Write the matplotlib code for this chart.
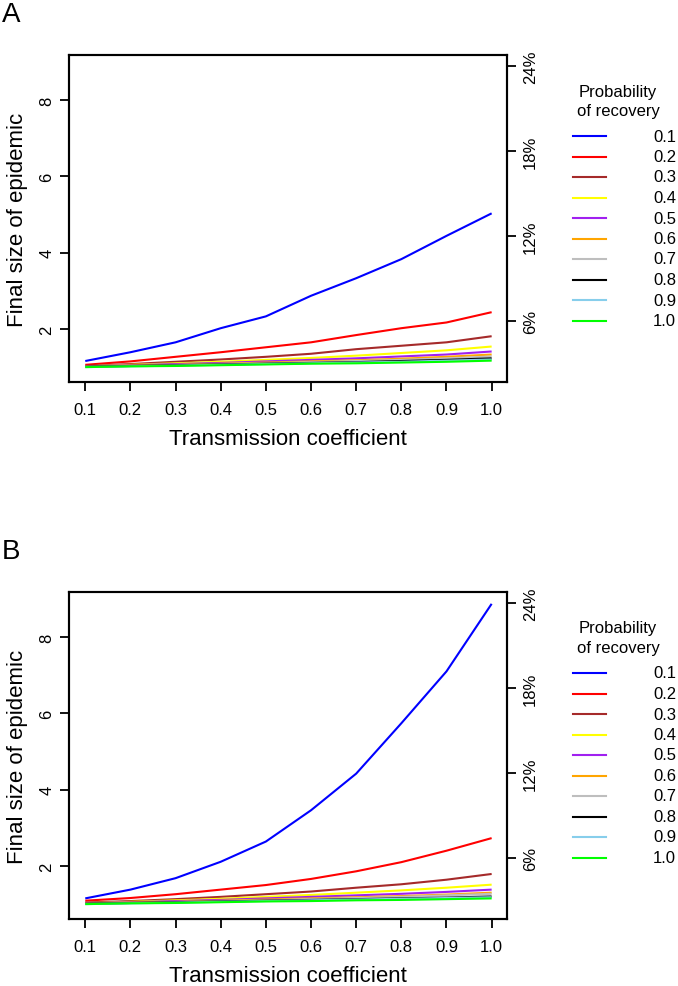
import matplotlib
matplotlib.use("Agg")
import matplotlib.pyplot as plt
from matplotlib.lines import Line2D

plt.rcParams['font.family'] = ['Liberation Sans', 'DejaVu Sans']

transmission = [0.1, 0.2, 0.3, 0.4, 0.5, 0.6, 0.7, 0.8, 0.9, 1.0]
recovery_labels = ["0.1", "0.2", "0.3", "0.4", "0.5", "0.6", "0.7", "0.8", "0.9", "1.0"]
colors = ["#0000FF", "#FF0000", "#A52A2A", "#FFFF00", "#A020F0",
          "#FFA500", "#BEBEBE", "#000000", "#87CEEB", "#00FF00"]

# Panel A: final size per recovery probability
A_r01 = [1.16, 1.39, 1.65, 2.02, 2.33, 2.87, 3.33, 3.83, 4.44, 5.03]
A_r02 = [1.06, 1.15, 1.27, 1.39, 1.52, 1.65, 1.84, 2.02, 2.17, 2.44]
A_r03 = [1.03, 1.08, 1.14, 1.20, 1.27, 1.35, 1.47, 1.56, 1.65, 1.81]
A_r04 = [1.02, 1.06, 1.10, 1.14, 1.19, 1.24, 1.30, 1.37, 1.44, 1.54]
A_r05 = [1.02, 1.05, 1.08, 1.11, 1.15, 1.19, 1.23, 1.28, 1.33, 1.41]
A_r06 = [1.01, 1.04, 1.06, 1.09, 1.12, 1.15, 1.18, 1.22, 1.27, 1.33]
A_r07 = [1.01, 1.03, 1.05, 1.08, 1.10, 1.13, 1.16, 1.19, 1.23, 1.28]
A_r08 = [1.01, 1.03, 1.05, 1.07, 1.09, 1.11, 1.13, 1.16, 1.19, 1.23]
A_r09 = [1.00, 1.02, 1.04, 1.06, 1.08, 1.10, 1.12, 1.14, 1.17, 1.20]
A_r10 = [1.00, 1.02, 1.03, 1.05, 1.07, 1.09, 1.10, 1.12, 1.14, 1.17]

# Panel B
B_r01 = [1.15, 1.38, 1.68, 2.11, 2.64, 3.46, 4.42, 5.74, 7.10, 8.87]
B_r02 = [1.09, 1.16, 1.26, 1.38, 1.50, 1.66, 1.86, 2.10, 2.40, 2.73]
B_r03 = [1.04, 1.08, 1.13, 1.19, 1.26, 1.33, 1.43, 1.52, 1.64, 1.79]
B_r04 = [1.02, 1.06, 1.10, 1.14, 1.19, 1.24, 1.30, 1.36, 1.43, 1.51]
B_r05 = [1.02, 1.05, 1.08, 1.11, 1.15, 1.19, 1.23, 1.27, 1.32, 1.38]
B_r06 = [1.01, 1.04, 1.06, 1.09, 1.12, 1.15, 1.18, 1.21, 1.25, 1.30]
B_r07 = [1.01, 1.03, 1.05, 1.08, 1.10, 1.13, 1.16, 1.19, 1.23, 1.27]
B_r08 = [1.01, 1.03, 1.05, 1.07, 1.09, 1.11, 1.13, 1.15, 1.17, 1.20]
B_r09 = [1.00, 1.02, 1.04, 1.06, 1.08, 1.10, 1.12, 1.14, 1.16, 1.18]
B_r10 = [1.00, 1.02, 1.03, 1.05, 1.07, 1.08, 1.10, 1.11, 1.13, 1.15]

panel_A = [A_r01, A_r02, A_r03, A_r04, A_r05, A_r06, A_r07, A_r08, A_r09, A_r10]
panel_B = [B_r01, B_r02, B_r03, B_r04, B_r05, B_r06, B_r07, B_r08, B_r09, B_r10]

left_ticks = [2, 4, 6, 8]
pct_ticks = [6, 12, 18, 24]
population = 37.0

W, H = 678, 987
fig = plt.figure(figsize=(W / 100, H / 100), dpi=100)

TICK_FS = 12
LAB_FS = 16
LEG_FS = 12


def px_axes(left, top, right, bottom):
    return [left / W, 1 - bottom / H, (right - left) / W, (bottom - top) / H]


def draw_panel(top, data, letter):
    ax = fig.add_axes(px_axes(69, top, 507, top + 327))
    for series, c in zip(data, colors):
        ax.plot(transmission, series, color=c, lw=1.5, solid_capstyle='butt')
    ax.set_xlim(0.064, 1.034)
    ax.set_ylim(0.61, 9.18)
    ax.set_xticks(transmission)
    ax.set_xticklabels(["%.1f" % t for t in transmission])
    ax.set_yticks(left_ticks)
    ax.set_yticklabels([str(v) for v in left_ticks], rotation=90, va='center')
    for s in ax.spines.values():
        s.set_linewidth(1.5)
    ax.tick_params(axis='both', direction='out', length=6.5, width=1.3, labelsize=TICK_FS)
    ax.tick_params(axis='x', pad=8)
    ax.tick_params(axis='y', pad=4)
    ax.set_xlabel("Transmission coefficient", fontsize=LAB_FS, labelpad=8)
    ax.set_ylabel("Final size of epidemic", fontsize=LAB_FS, labelpad=8)

    ax2 = ax.twinx()
    ax2.set_ylim(ax.get_ylim())
    ax2.set_yticks([p / 100 * population for p in pct_ticks])
    ax2.set_yticklabels(["%d%%" % p for p in pct_ticks], rotation=90, va='center')
    ax2.tick_params(axis='y', direction='out', length=6.5, width=1.3, labelsize=TICK_FS, pad=5)
    for s in ax2.spines.values():
        s.set_linewidth(1.5)

    fig.text(2 / W, 1 - (top - 41) / H, letter, fontsize=20, ha='left', va='center')

    # legend
    ltop = top + 36
    fig.text(618 / W, 1 - ltop / H, "Probability", fontsize=LEG_FS, ha='center', va='center')
    fig.text(618 / W, 1 - (ltop + 20) / H, "of recovery", fontsize=LEG_FS, ha='center', va='center')
    for i, (lab, c) in enumerate(zip(recovery_labels, colors)):
        yy = 1 - (ltop + 45 + i * 20.5) / H
        fig.add_artist(Line2D([573 / W, 606 / W], [yy, yy], color=c, lw=1.5,
                              transform=fig.transFigure))
        fig.text(676 / W, yy, lab, fontsize=LEG_FS, ha='right', va='center')


draw_panel(56, panel_A, "A")
draw_panel(593, panel_B, "B")

fig.savefig("out.png", dpi=100)
